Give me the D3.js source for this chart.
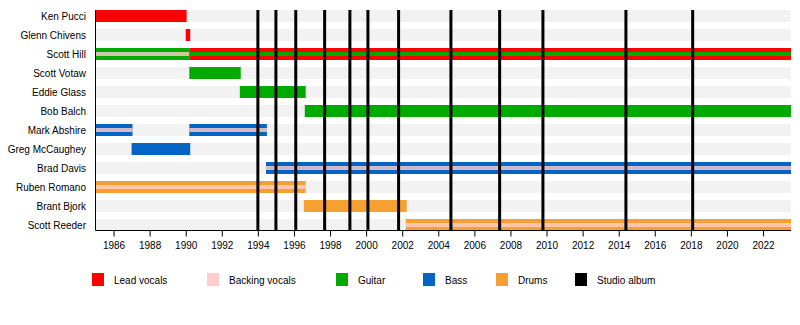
<!DOCTYPE html>
<html>
<head>
<meta charset="utf-8">
<script src="https://cdn.jsdelivr.net/npm/d3@7"></script>
<style>
  body { margin: 0; background: #fff; }
  svg text { font-family: 'Liberation Sans', Arial, sans-serif; font-size: 10px; fill: #000; }
</style>
</head>
<body>
<div id="chart"></div>
<script>
// ── Band member timeline ─────────────────────────────

const members = ['Ken Pucci', 'Glenn Chivens', 'Scott Hill', 'Scott Votaw', 'Eddie Glass', 'Bob Balch',
    'Mark Abshire', 'Greg McCaughey', 'Brad Davis', 'Ruben Romano', 'Brant Bjork', 'Scott Reeder'];

// main bars: [member, role, start, end]
const END = 2023.55;
const mainBars = [
    ['Ken Pucci', 'lead', 1985, 1990.05],
    ['Glenn Chivens', 'lead', 1990.0, 1990.25],
    ['Scott Hill', 'guitar', 1985, 1990.2],
    ['Scott Hill', 'lead', 1990.2, END],
    ['Scott Votaw', 'guitar', 1990.2, 1993.05],
    ['Eddie Glass', 'guitar', 1993.0, 1996.65],
    ['Bob Balch', 'guitar', 1996.6, END],
    ['Mark Abshire', 'bass', 1985, 1987.05],
    ['Mark Abshire', 'bass', 1990.2, 1994.5],
    ['Greg McCaughey', 'bass', 1987.0, 1990.25],
    ['Brad Davis', 'bass', 1994.45, END],
    ['Ruben Romano', 'drums', 1985, 1996.65],
    ['Brant Bjork', 'drums', 1996.55, 2002.25],
    ['Scott Reeder', 'drums', 2002.2, END]
];

// thin bars drawn on top: [member, role, start, end]
const stripeBars = [
    ['Scott Hill', 'backing', 1985, 1990.2],
    ['Scott Hill', 'guitar', 1990.2, END],
    ['Mark Abshire', 'backing', 1985, 1987.05],
    ['Mark Abshire', 'backing', 1990.2, 1994.5],
    ['Brad Davis', 'backing', 1994.45, END],
    ['Ruben Romano', 'backing', 1985, 1996.65],
    ['Scott Reeder', 'backing', 2002.2, END]
];

const albumYears = [1994.0, 1995.0, 1996.1, 1997.7, 1999.1, 2000.1, 2001.8, 2004.7, 2007.4, 2009.8, 2014.4, 2018.1];

const tickYears = [1986, 1988, 1990, 1992, 1994, 1996, 1998, 2000, 2002, 2004, 2006, 2008, 2010,
    2012, 2014, 2016, 2018, 2020, 2022];

const roles = ['lead', 'backing', 'guitar', 'bass', 'drums', 'album'];
const roleNames = ['Lead vocals', 'Backing vocals', 'Guitar', 'Bass', 'Drums', 'Studio album'];
const roleColors = ['#ff0000', '#ffcccc', '#00aa00', '#0563c4', '#f5a030', '#000000'];

const width = 800, height = 325;
const svg = d3.select('#chart').append('svg')
    .attr('width', width)
    .attr('height', height);

const x = d3.scaleLinear().domain([1985, END]).range([95.5, 791]);
const y = d3.scaleBand().domain(members).range([10, 231]).paddingInner(7 / 19).paddingOuter(0);
const color = d3.scaleOrdinal().domain(roles).range(roleColors);

// Row background bands
svg.append('g')
    .selectAll('rect')
    .data(members)
    .join('rect')
    .attr('x', x(1985))
    .attr('y', d => y(d))
    .attr('width', x(END) - x(1985))
    .attr('height', y.bandwidth())
    .attr('fill', '#f2f2f2');

// Row labels
svg.append('g')
    .selectAll('text')
    .data(members)
    .join('text')
    .attr('x', 86)
    .attr('y', d => y(d) + y.bandwidth() / 2)
    .attr('dy', '0.35em')
    .attr('text-anchor', 'end')
    .text(d => d);

// Main bars
svg.append('g')
    .selectAll('rect')
    .data(mainBars)
    .join('rect')
    .attr('x', d => x(d[2]))
    .attr('y', d => y(d[0]))
    .attr('width', d => x(d[3]) - x(d[2]))
    .attr('height', y.bandwidth())
    .attr('fill', d => color(d[1]));

// Stripes (backing vocals etc.)
svg.append('g')
    .selectAll('rect')
    .data(stripeBars)
    .join('rect')
    .attr('x', d => x(d[2]))
    .attr('y', d => y(d[0]) + y.bandwidth() / 3)
    .attr('width', d => x(d[3]) - x(d[2]))
    .attr('height', y.bandwidth() / 3)
    .attr('fill', d => color(d[1]))
    .attr('fill-opacity', d => d[1] === 'backing' ? 0.82 : 1);

// Studio album lines
const axisY = 230.5;
svg.append('g')
    .selectAll('line')
    .data(albumYears)
    .join('line')
    .attr('x1', d => x(d))
    .attr('x2', d => x(d))
    .attr('y1', 10)
    .attr('y2', axisY)
    .attr('stroke', '#000')
    .attr('stroke-width', 3);

// Left edge
svg.append('line')
    .attr('x1', 95.5).attr('x2', 95.5)
    .attr('y1', 10).attr('y2', axisY)
    .attr('stroke', '#000');

// Axis with yearly minor ticks
const axisG = svg.append('g').attr('transform', `translate(0,${axisY})`);
axisG.call(d3.axisBottom(x).tickValues(d3.range(1986, 2024)).tickSize(4).tickFormat(''))
    .call(g => g.select('.domain').remove());
axisG.call(d3.axisBottom(x).tickValues(tickYears).tickSize(6).tickPadding(5).tickFormat(d3.format('d')))
    .call(g => g.selectAll('.domain').remove())
    .call(g => g.selectAll('text').attr('font-size', 10).attr('font-family', "'Liberation Sans', Arial, sans-serif"));
svg.append('line')
    .attr('x1', 95.5).attr('x2', 791)
    .attr('y1', axisY).attr('y2', axisY)
    .attr('stroke', '#000');

// Legend
const legendX = [92, 207, 336, 423, 496, 575];
const legend = svg.append('g')
    .selectAll('g')
    .data(roles)
    .join('g')
    .attr('transform', (d, i) => `translate(${legendX[i]},273)`);
legend.append('rect')
    .attr('width', 12)
    .attr('height', 13)
    .attr('fill', d => color(d));
legend.append('text')
    .attr('x', 22)
    .attr('y', 7)
    .attr('dy', '0.35em')
    .text((d, i) => roleNames[i]);
</script>
</body>
</html>
